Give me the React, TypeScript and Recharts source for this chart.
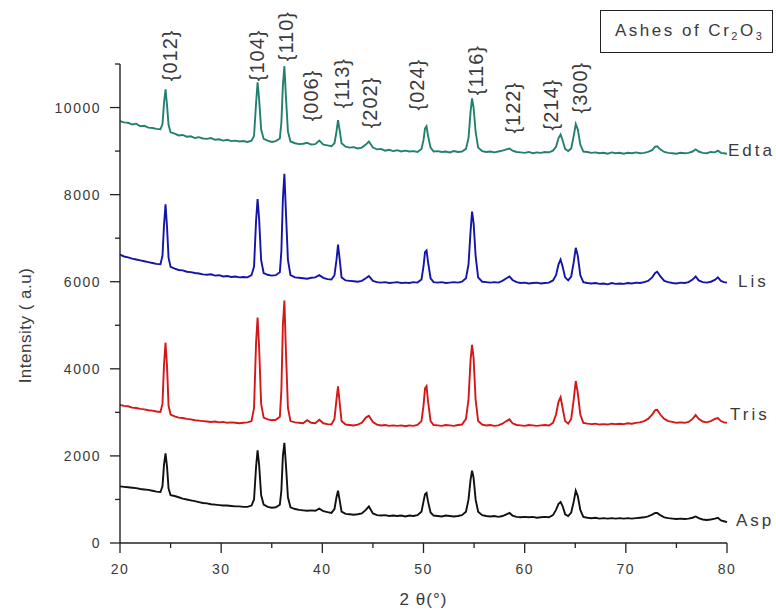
import React from 'react';
import { LineChart, Line, XAxis, YAxis, ReferenceDot } from 'recharts';

// 2θ positions (degrees), shared by all four patterns
const theta = [
    20, 20.4, 20.8, 21.2, 21.6, 22, 22.4, 22.8, 23.2, 23.6, 24,
    24.2, 24.35, 24.5, 24.65, 24.8, 25,
    25.4, 25.8, 26.2, 26.6, 27, 27.4, 27.8, 28.2, 28.6, 29, 29.4, 29.8, 30.2, 30.6, 31, 31.4, 31.8, 32.2, 32.6, 33,
    33.25, 33.45, 33.6, 33.75, 33.95, 34.2,
    34.6, 35, 35.4, 35.8,
    35.95, 36.1, 36.25, 36.4, 36.6, 36.85,
    37.3, 37.7, 38.1, 38.5, 38.9, 39.3, 39.7, 40.1, 40.5, 40.9, 41.2,
    41.4, 41.55, 41.7, 41.9,
    42.3, 42.7, 43.1, 43.5, 43.9, 44.3, 44.6, 45, 45.4, 45.8, 46.2, 46.6, 47, 47.4, 47.8, 48.2, 48.6, 49, 49.4, 49.8,
    50, 50.15, 50.3, 50.45, 50.7,
    51, 51.4, 51.8, 52.2, 52.6, 53, 53.4, 53.8, 54.2,
    54.45, 54.65, 54.8, 54.95, 55.15, 55.4,
    55.8, 56.2, 56.6, 57, 57.4, 57.8, 58.2, 58.5, 58.8, 59.2, 59.6, 60, 60.4, 60.8, 61.2, 61.6, 62, 62.4, 62.8,
    63.1, 63.35, 63.55, 63.75, 64, 64.3, 64.6, 64.85, 65.05, 65.25, 65.5, 65.8,
    66.2, 66.6, 67, 67.4, 67.8, 68.2, 68.6, 69, 69.4, 69.8, 70.2, 70.6, 71, 71.4, 71.8, 72.2, 72.6, 72.9, 73.1,
    73.4, 73.8, 74.2, 74.6, 75, 75.4, 75.8, 76.2, 76.6, 76.9, 77.2, 77.6, 78, 78.4, 78.8, 79.1, 79.4, 79.7, 80,
];

const edta = [
    9690, 9660, 9650, 9610, 9630, 9570, 9580, 9540, 9530, 9510, 9500,
    9620, 10100, 10420, 10050, 9600, 9430,
    9400, 9360, 9370, 9330, 9340, 9300, 9320, 9290, 9280, 9300, 9260, 9270, 9240, 9260, 9230, 9240, 9220, 9230, 9210, 9240,
    9350, 10100, 10580, 10200, 9500, 9280,
    9240, 9210, 9230, 9290,
    9650, 10500, 10950, 10250, 9450, 9220,
    9180, 9160, 9170, 9190, 9150, 9160, 9240, 9150, 9130, 9110, 9180,
    9450, 9710, 9500, 9180,
    9100, 9080, 9090, 9060, 9080, 9150, 9220, 9080, 9040, 9050, 9010, 9030, 9000, 9020, 8990, 9010, 8990, 9000, 8980, 9050,
    9250, 9520, 9570, 9350, 9080,
    8990, 9000, 8980, 8990, 8970, 9000, 8980, 8990, 9050,
    9300, 9900, 10210, 10000, 9450, 9080,
    9000, 8980, 8990, 8970, 8990, 9010, 9040, 9060, 9010, 8980, 8970, 8960, 8980, 8950, 8970, 8960, 8980, 8970, 9010,
    9100, 9300, 9380, 9250, 9050, 9000, 9060, 9350, 9620, 9500, 9150, 8990,
    8980, 8960, 8970, 8950, 8960, 8940, 8970, 8950, 8960, 8940, 8960, 8950, 8970, 8950, 8960, 8980, 9020, 9100, 9110,
    9040, 8980, 8960, 8950, 8940, 8960, 8950, 8960, 8990, 9040, 8990, 8960, 8950, 8980, 8970, 9010, 8960, 8950, 8940,
];

const lis = [
    6620, 6580, 6560, 6530, 6510, 6490, 6470, 6450, 6430, 6410, 6400,
    6600, 7300, 7780, 7250, 6550, 6340,
    6300, 6270, 6260, 6230, 6220, 6200, 6190, 6170, 6160, 6170, 6140, 6150, 6120, 6130, 6110, 6120, 6100, 6110, 6100, 6150,
    6350, 7400, 7900, 7450, 6500, 6200,
    6160, 6140, 6150, 6220,
    6700, 7900, 8480, 7600, 6500, 6150,
    6100, 6090, 6080, 6070, 6090, 6100, 6150, 6090, 6060, 6050, 6150,
    6500, 6850, 6550, 6100,
    6030, 6020, 6010, 6000, 6020, 6080, 6130, 6020, 5990, 5980, 5990, 5970, 5980, 5990, 5970, 5980, 5970, 5990, 5980, 6050,
    6350, 6680, 6720, 6450, 6080,
    5990, 5980, 5990, 5970, 5980, 5990, 5980, 6000, 6080,
    6400, 7150, 7610, 7350, 6600, 6100,
    6000, 5990, 5980, 5990, 5980, 6020, 6080, 6120, 6040, 5990, 5970, 5980, 5960, 5970, 5980, 5960, 5970, 5980, 6030,
    6150, 6400, 6510, 6350, 6100, 6030, 6120, 6450, 6780, 6600, 6150, 5990,
    5970, 5960, 5970, 5950, 5960, 5940, 5970, 5950, 5960, 5950, 5970, 5960, 5980, 5970, 5990, 6020, 6100, 6200, 6230,
    6130, 6020, 5990, 5970, 5960, 5980, 5970, 5990, 6050, 6120, 6030, 5990, 5980, 6000, 6040, 6100, 6020, 5990, 5980,
];

const tris = [
    3170, 3150, 3140, 3110, 3100, 3080, 3070, 3050, 3040, 3020, 3010,
    3200, 4100, 4600, 4050, 3150, 2950,
    2910, 2880, 2870, 2850, 2840, 2820, 2810, 2800, 2790, 2780, 2790, 2770, 2780, 2760, 2770, 2760, 2750, 2760, 2770, 2800,
    3100, 4600, 5180, 4500, 3200, 2880,
    2840, 2820, 2830, 2900,
    3500, 5000, 5570, 4400, 3100, 2800,
    2770, 2760, 2750, 2820, 2760, 2750, 2830, 2750, 2730, 2720, 2850,
    3300, 3600, 3250, 2800,
    2720, 2710, 2700, 2720, 2760, 2880, 2920, 2780, 2720, 2700, 2710, 2690, 2700, 2690, 2700, 2680, 2700, 2690, 2710, 2800,
    3150, 3550, 3600, 3250, 2800,
    2710, 2700, 2690, 2710, 2700, 2690, 2710, 2720, 2850,
    3300, 4200, 4550, 4250, 3300, 2800,
    2720, 2700, 2710, 2690, 2700, 2740, 2800, 2840, 2750, 2710, 2700, 2690, 2710, 2700, 2690, 2700, 2710, 2700, 2760,
    2950, 3250, 3350, 3100, 2800, 2740, 2850, 3300, 3720, 3450, 2950, 2760,
    2740, 2730, 2740, 2720, 2730, 2720, 2740, 2730, 2740, 2730, 2750, 2740, 2760, 2770, 2800, 2850, 2950, 3050, 3060,
    2950, 2850, 2800, 2780, 2760, 2770, 2760, 2780, 2850, 2940, 2850, 2790, 2770, 2800, 2850, 2870, 2800, 2770, 2760,
];

const asp = [
    1300, 1290, 1280, 1270, 1260, 1240, 1230, 1220, 1200, 1180, 1170,
    1300, 1800, 2060, 1750, 1250, 1100,
    1080, 1050, 1020, 1000, 980, 960, 940, 920, 910, 890, 880, 870, 860, 860, 850, 840, 840, 830, 830, 860,
    1000, 1750, 2130, 1800, 1100, 880,
    830, 810, 820, 880,
    1200, 2000, 2300, 1800, 1050, 820,
    780, 760, 750, 740, 750, 740, 790, 730, 710, 690, 780,
    1050, 1200, 1000, 720,
    670, 660, 650, 660, 680, 760, 840, 680, 640, 630, 640, 620, 630, 620, 630, 610, 630, 620, 640, 720,
    950, 1120, 1150, 950, 700,
    630, 620, 610, 630, 620, 610, 620, 640, 720,
    1000, 1450, 1660, 1500, 1000, 720,
    640, 620, 610, 620, 600, 620, 660, 690, 630, 600, 590, 600, 590, 600, 580, 590, 600, 590, 640,
    760, 900, 940, 850, 660, 620, 700, 950, 1200, 1080, 760, 600,
    580, 570, 580, 560, 570, 560, 570, 560, 570, 560, 570, 560, 570, 580, 590, 610, 650, 690, 690,
    640, 590, 570, 560, 550, 560, 550, 560, 580, 610, 570, 540, 530, 540, 560, 580, 520, 500, 480,
];

// Miller index annotations: label, 2θ of label centre, intensity at the foot of the label
const hklNames = ['{012}', '{104}', '{110}', '{006}', '{113}', '{202}', '{024}', '{116}', '{122}', '{214}', '{300}'];
const hklTheta = [25.04, 33.64, 36.5, 38.97, 42.04, 44.8, 49.45, 55.33, 58.93, 62.69, 65.55];
const hklFoot = [10580, 10580, 11040, 9660, 9960, 9500, 9910, 10260, 9380, 9450, 9840];

const xTicks = [20, 25, 30, 35, 40, 45, 50, 55, 60, 65, 70, 75, 80];
const yTicks = [0, 1000, 2000, 3000, 4000, 5000, 6000, 7000, 8000, 9000, 10000, 11000];

const series = [
    { key: 'edta', name: 'Edta', values: edta, color: '#23806e', dx: 2, dy: -2 },
    { key: 'lis', name: 'Lis', values: lis, color: '#1414a8', dx: 12, dy: 0 },
    { key: 'tris', name: 'Tris', values: tris, color: '#d41717', dx: 4, dy: -7 },
    { key: 'asp', name: 'Asp', values: asp, color: '#111111', dx: 10, dy: -1 },
];

const data = theta.map((t, i) => ({
    theta: t,
    edta: edta[i],
    lis: lis[i],
    tris: tris[i],
    asp: asp[i],
}));

const FONT = '"Liberation Sans", Arial, sans-serif';
const AXIS = '#222';
const TEXT = '#3a3a3a';

function XTick({ x, y, payload }: any) {
    const major = payload.value % 10 === 0;
    return (
        <g>
            <line x1={x} y1={y} x2={x} y2={y + (major ? 10 : 5)} stroke={AXIS} strokeWidth={1.3} />
            {major && (
                <text x={x} y={y + 26} textAnchor="middle" dominantBaseline="central"
                    fontFamily={FONT} fontSize={14} letterSpacing={1.5} fill={TEXT}>
                    {payload.value}
                </text>
            )}
        </g>
    );
}

function YTick({ x, y, payload }: any) {
    const major = payload.value % 2000 === 0;
    return (
        <g>
            <line x1={x} y1={y} x2={x - (major ? 10 : 5)} y2={y} stroke={AXIS} strokeWidth={1.3} />
            {major && (
                <text x={x - 19} y={y} textAnchor="end" dominantBaseline="central"
                    fontFamily={FONT} fontSize={14} letterSpacing={1.5} fill={TEXT}>
                    {payload.value}
                </text>
            )}
        </g>
    );
}

function XTitle({ viewBox }: any) {
    return (
        <text x={viewBox.x + viewBox.width / 2} y={viewBox.y + 56} textAnchor="middle" dominantBaseline="central"
            fontFamily={FONT} fontSize={17} letterSpacing={1} fill={TEXT}>
            2 θ(°)
        </text>
    );
}

function YTitle({ viewBox }: any) {
    const cx = viewBox.x + 25;
    const cy = viewBox.y + viewBox.height / 2 + 22;
    return (
        <text x={cx} y={cy} transform={`rotate(-90 ${cx} ${cy})`} textAnchor="middle" dominantBaseline="central"
            fontFamily={FONT} fontSize={17} letterSpacing={0.5} fill={TEXT}>
            Intensity ( a.u)
        </text>
    );
}

function HklLabel({ viewBox, value }: any) {
    const cx = viewBox.x;
    const cy = viewBox.y;
    return (
        <text x={cx} y={cy} transform={`rotate(-90 ${cx} ${cy})`} textAnchor="start" dominantBaseline="central"
            fontFamily={FONT} fontSize={20} letterSpacing={1} fill={TEXT}>
            {value}
        </text>
    );
}

function makeEndLabel(text: string, dx: number, dy: number) {
    return ({ viewBox }: any) => (
        <text x={viewBox.x + dx} y={viewBox.y + dy} textAnchor="start" dominantBaseline="central"
            fontFamily={FONT} fontSize={17} letterSpacing={3} fill={TEXT}>
            {text}
        </text>
    );
}

export default function App() {
    const last = theta.length - 1;
    return (
        <div style={{ position: 'absolute', left: 0, top: 0, width: 776, height: 610, background: '#fff' }}>
            <LineChart width={776} height={610} data={data} margin={{ top: 64, right: 49, bottom: 27, left: 0 }}>
                <XAxis
                    dataKey="theta"
                    type="number"
                    domain={[20, 80]}
                    ticks={xTicks}
                    interval={0}
                    height={40}
                    tickSize={0}
                    tickMargin={0}
                    tickLine={false}
                    axisLine={{ stroke: AXIS, strokeWidth: 1.4 }}
                    tick={<XTick />}
                    label={{ content: (p: any) => <XTitle {...p} /> }}
                />
                <YAxis
                    type="number"
                    domain={[0, 11000]}
                    ticks={yTicks}
                    interval={0}
                    width={120}
                    tickSize={0}
                    tickMargin={0}
                    tickLine={false}
                    axisLine={{ stroke: AXIS, strokeWidth: 1.4 }}
                    tick={<YTick />}
                    allowDataOverflow
                    label={{ content: (p: any) => <YTitle {...p} /> }}
                />
                {series.map(s => (
                    <Line
                        key={s.key}
                        type="linear"
                        dataKey={s.key}
                        stroke={s.color}
                        strokeWidth={1.9}
                        strokeLinejoin="miter"
                        dot={false}
                        isAnimationActive={false}
                    />
                ))}
                {series.map(s => (
                    <ReferenceDot
                        key={'end-' + s.key}
                        x={theta[last]}
                        y={s.values[last]}
                        r={1}
                        fill="none"
                        stroke="none"
                        ifOverflow="visible"
                        label={{ content: makeEndLabel(s.name, s.dx, s.dy) }}
                    />
                ))}
                {hklNames.map((h, i) => (
                    <ReferenceDot
                        key={h}
                        x={hklTheta[i]}
                        y={hklFoot[i]}
                        r={1}
                        fill="none"
                        stroke="none"
                        ifOverflow="visible"
                        label={{ content: (p: any) => <HklLabel {...p} value={h} /> }}
                    />
                ))}
            </LineChart>
            <div
                style={{
                    position: 'absolute', left: 600, top: 10, width: 173, height: 43,
                    border: '1.5px solid #222', boxSizing: 'border-box',
                    fontFamily: FONT, fontSize: 17, letterSpacing: 2.5, color: TEXT,
                    display: 'flex', alignItems: 'center', paddingLeft: 14,
                }}
            >
                <span>Ashes of Cr<sub style={{ fontSize: 11 }}>2</sub>O<sub style={{ fontSize: 11 }}>3</sub></span>
            </div>
        </div>
    );
}
